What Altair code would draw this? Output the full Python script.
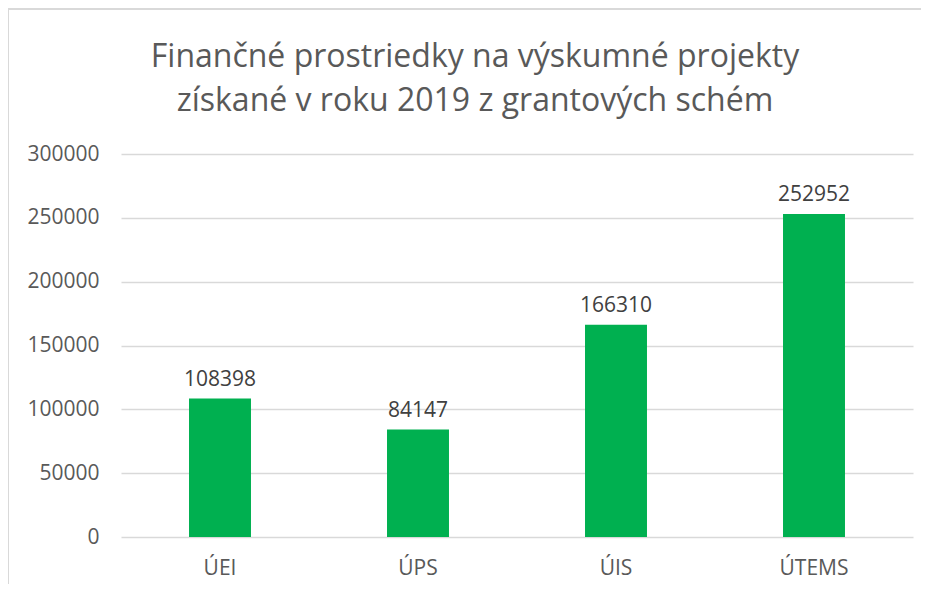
import altair as alt
import pandas as pd

categories = ["ÚEI", "ÚPS", "ÚIS", "ÚTEMS"]
values = [108398, 84147, 166310, 252952]
y_ticks = [0, 50000, 100000, 150000, 200000, 250000, 300000]
title_lines = ["Finančné prostriedky na výskumné projekty", "získané v roku 2019 z grantových schém"]

df = pd.DataFrame({"cat": categories, "val": values})
FONT = "Open Sans"

base = alt.Chart(df).encode(
    x=alt.X("cat:N", sort=categories, title=None,
            scale=alt.Scale(paddingInner=0.687, paddingOuter=0.3435),
            axis=alt.Axis(labelAngle=0, domain=False, ticks=False, labelPadding=20,
                          labelFontSize=21, labelColor="#595959", labelFont=FONT)),
    y=alt.Y("val:Q", title=None, scale=alt.Scale(domain=[0, 300000], nice=False),
            axis=alt.Axis(values=y_ticks, format="d", domain=False, ticks=False,
                          labelPadding=22, labelFontSize=21, labelColor="#595959",
                          labelFont=FONT, gridColor="#d9d9d9", gridWidth=1.5)),
)

bars = base.mark_bar(color="#00B050")
labels = base.mark_text(baseline="bottom", dy=-9, fontSize=21, color="#404040", font=FONT).encode(
    text=alt.Text("val:Q", format="d"))

one = pd.DataFrame({"a": [0]})
border_top = alt.Chart(one).mark_rule(color="#d9d9d9", strokeWidth=2).encode(
    x=alt.value(-113), x2=alt.value(900), y=alt.value(-145))
border_left = alt.Chart(one).mark_rule(color="#d9d9d9", strokeWidth=2).encode(
    x=alt.value(-113), y=alt.value(-145), y2=alt.value(470))

t1 = alt.Chart(pd.DataFrame({"t": [title_lines[0]]})).mark_text(
    font=FONT, fontSize=32, color="#595959", baseline="middle", align="center").encode(
    text="t:N", x=alt.value(354), y=alt.value(-97))
t2 = alt.Chart(pd.DataFrame({"t": [title_lines[1]]})).mark_text(
    font=FONT, fontSize=32, color="#595959", baseline="middle", align="center").encode(
    text="t:N", x=alt.value(354), y=alt.value(-53))

chart = alt.layer(border_top, border_left, bars, labels, t1, t2).properties(
    width=792, height=383,
    padding={"left": 113, "top": 146, "right": 8, "bottom": 47},
    autosize=alt.AutoSizeParams(type="none"),
).configure_view(stroke=None)

chart.save("out.html", embed_options={"renderer": "svg", "actions": False})
